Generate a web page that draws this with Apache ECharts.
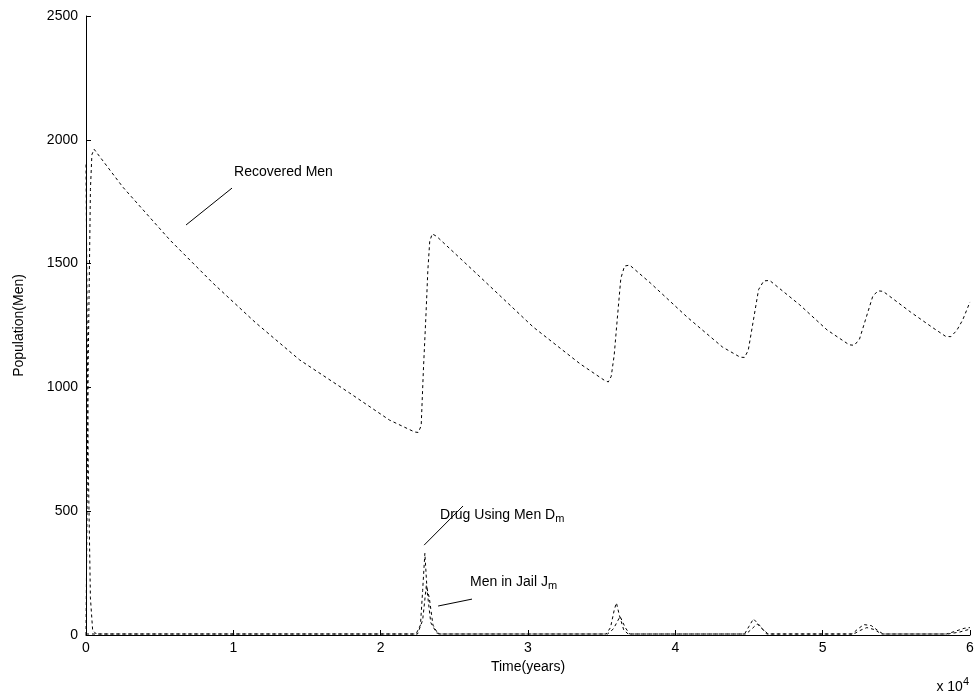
<!DOCTYPE html>
<html>
<head>
<meta charset="utf-8">
<script src="https://cdn.jsdelivr.net/npm/echarts@6/dist/echarts.min.js"></script>
<style>html,body{margin:0;padding:0;background:#fff}#c{width:977px;height:700px}</style>
</head>
<body>
<div id="c"></div>
<script>
// Time in years, population values
const recoveredMen = [
  [0,0],[150,1100],[300,1800],[400,1940],[550,1962],[2500,1809],[5700,1595],[8600,1422],[11500,1262],
  [14500,1111],[17900,977],[20600,868],[22300,820],[22550,818],[22750,845],[22900,1070],[23080,1300],
  [23200,1470],[23330,1590],[23500,1620],[23800,1610],[26750,1446],[30350,1244],[33540,1095],[35200,1028],
  [35450,1022],[35650,1045],[35850,1130],[36050,1270],[36300,1440],[36550,1490],[36900,1494],[38300,1422],
  [40800,1284],[43200,1163],[44400,1122],[44700,1121],[44950,1150],[45300,1272],[45650,1395],[46000,1430],
  [46400,1432],[48450,1333],[50300,1232],[51800,1172],[52150,1170],[52500,1195],[52900,1272],[53400,1368],
  [53750,1390],[54100,1388],[55950,1305],[57500,1240],[58350,1206],[58700,1205],[59100,1230],[59500,1272],
  [60000,1345]
];
const drugUsingMen = [
  [0,1900],[150,700],[300,150],[450,20],[700,4],[22400,4],[22700,40],[22850,180],[23000,330],
  [23150,180],[23400,50],[23800,8],[24200,4],[35300,4],[35600,30],[35850,100],[36000,130],
  [36200,80],[36500,20],[36800,4],[44700,4],[45000,35],[45300,65],[45700,40],[46200,4],
  [52000,4],[52400,25],[52800,42],[53300,38],[53700,20],[54100,4],[58400,4],[59000,15],
  [59600,27],[60000,30]
];
const menInJail = [
  [0,4],[22500,4],[22850,60],[23100,200],[23300,150],[23550,40],[23900,4],[35400,4],
  [35800,25],[36250,75],[36600,30],[36900,4],[44800,4],[45200,25],[45550,45],[45900,25],
  [46300,4],[52100,4],[52600,20],[53000,30],[53500,22],[54000,4],[58500,4],[59300,12],
  [59900,22],[60000,22]
];
const xTicks = [0,1,2,3,4,5,6];
const yTicks = [0,500,1000,1500,2000,2500];
const labels = {
  recovered: 'Recovered Men',
  drug: 'Drug Using Men D{sub|m}',
  jail: 'Men in Jail J{sub|m}'
};

const font = 'Liberation Sans, Arial, sans-serif';
const dashed = {color:'#000', width:1, type:[3,3]};
const pointer = {color:'#000', width:1, type:'solid'};
const labelStyle = {
  show:true, position:[0,0], align:'left', verticalAlign:'middle',
  fontFamily:font, fontSize:14, color:'#000',
  rich:{sub:{fontFamily:font, fontSize:11, color:'#000', verticalAlign:'bottom', padding:[8,0,0,0]}}
};
function annotation(textPos, text, p1, p2){
  return {
    markLine:{silent:true, symbol:'none', label:{show:false}, lineStyle:pointer,
      data:[[{coord:p1},{coord:p2}]]},
    markPoint:{silent:true, symbol:'circle', symbolSize:0,
      label:Object.assign({formatter:text}, labelStyle),
      data:[{coord:textPos}]}
  };
}

const chart = echarts.init(document.getElementById('c'));
chart.setOption({
  animation:false,
  backgroundColor:'#fff',
  grid:{left:86, right:7, top:16, bottom:65},
  xAxis:{
    type:'value', min:0, max:60000, interval:10000,
    name:'Time(years)', nameLocation:'middle', nameGap:20,
    nameTextStyle:{fontFamily:font, fontSize:14, color:'#000'},
    axisLine:{show:true, lineStyle:{color:'#000', width:1}},
    axisTick:{show:true, inside:true, length:5, lineStyle:{color:'#000'}},
    axisLabel:{fontFamily:font, fontSize:14, color:'#000', margin:6,
      formatter:v => String(xTicks[Math.round(v/10000)])},
    splitLine:{show:false}
  },
  yAxis:{
    type:'value', min:0, max:2500, interval:500,
    name:'Population(Men)', nameLocation:'middle', nameGap:60,
    nameTextStyle:{fontFamily:font, fontSize:14, color:'#000'},
    axisLine:{show:true, lineStyle:{color:'#000', width:1}},
    axisTick:{show:true, inside:true, length:5, lineStyle:{color:'#000'}},
    axisLabel:{fontFamily:font, fontSize:14, color:'#000', margin:8,
      formatter:v => yTicks.indexOf(v) >= 0 ? String(v) : ''},
    splitLine:{show:false}
  },
  graphic:[{
    type:'text', right:8, bottom:6,
    style:{text:'x 10{sup|4}', fontFamily:font, fontSize:14, fill:'#000',
      rich:{sup:{fontFamily:font, fontSize:11, fill:'#000', padding:[0,0,10,0]}}}
  }],
  series:[
    Object.assign({type:'line', name:'Recovered Men', data:recoveredMen, showSymbol:false,
      lineStyle:dashed, z:3},
      annotation([10050,1870], labels.recovered, [6790,1656], [9910,1805])),
    Object.assign({type:'line', name:'Drug Using Men', data:drugUsingMen, showSymbol:false,
      lineStyle:dashed, z:3},
      annotation([24030,485], labels.drug, [22950,363], [25590,521])),
    Object.assign({type:'line', name:'Men in Jail', data:menInJail, showSymbol:false,
      lineStyle:dashed, z:3},
      annotation([26070,214], labels.jail, [23900,117], [26200,145]))
  ]
});
</script>
</body>
</html>
